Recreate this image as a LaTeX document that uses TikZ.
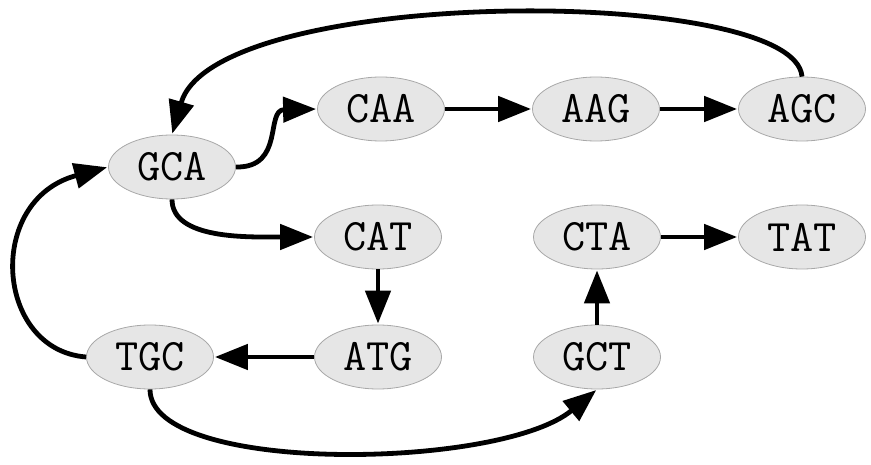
\documentclass[tikz,border=0pt]{standalone}
\usetikzlibrary{shapes.geometric,arrows.meta}
\definecolor{nodefill}{HTML}{E6E6E6}
\definecolor{nodeline}{HTML}{A8A8A8}
\tikzset{
  kmer/.style={ellipse, draw=nodeline, line width=0.8pt, fill=nodefill,
    minimum width=127pt, minimum height=64pt, inner sep=0pt,
    font=\fontsize{45}{45}\selectfont\ttfamily},
  edge/.style={line width=4.8pt, -{Triangle[length=33pt,width=25pt]}, shorten >=1pt}
}
\begin{document}
\begin{tikzpicture}[x=1pt,y=-1pt]
\useasboundingbox (0,0) rectangle (871,465);
\node[kmer] (GCA) at (172,167) {GCA};
\node[kmer] (CAA) at (381,109) {CAA};
\node[kmer] (AAG) at (596,109) {AAG};
\node[kmer] (AGC) at (802,109) {AGC};
\node[kmer] (CAT) at (378,237) {CAT};
\node[kmer] (CTA) at (597,237) {CTA};
\node[kmer] (TAT) at (802,237) {TAT};
\node[kmer] (TGC) at (150,357) {TGC};
\node[kmer] (ATG) at (378,357) {ATG};
\node[kmer] (GCT) at (597,357) {GCT};

\draw[edge] (CAA) -- (AAG);
\draw[edge] (AAG) -- (AGC);
\draw[edge] (CAT) -- (ATG);
\draw[edge] (ATG) -- (TGC);
\draw[edge] (GCT) -- (CTA);
\draw[edge] (CTA) -- (TAT);
\draw[edge] (AGC.north) .. controls (795,-15) and (215,-15) .. (GCA.north);
\draw[edge] (GCA.east) .. controls (285,168) and (265,110) .. (CAA.west);
\draw[edge] (GCA.south) .. controls (172,240) and (250,237) .. (CAT.west);
\draw[edge] (TGC.west) .. controls (-5,350) and (-15,200) .. (GCA.west);
\draw[edge] (TGC.south) .. controls (150,475) and (500,470) .. (GCT.south);
\end{tikzpicture}
\end{document}
